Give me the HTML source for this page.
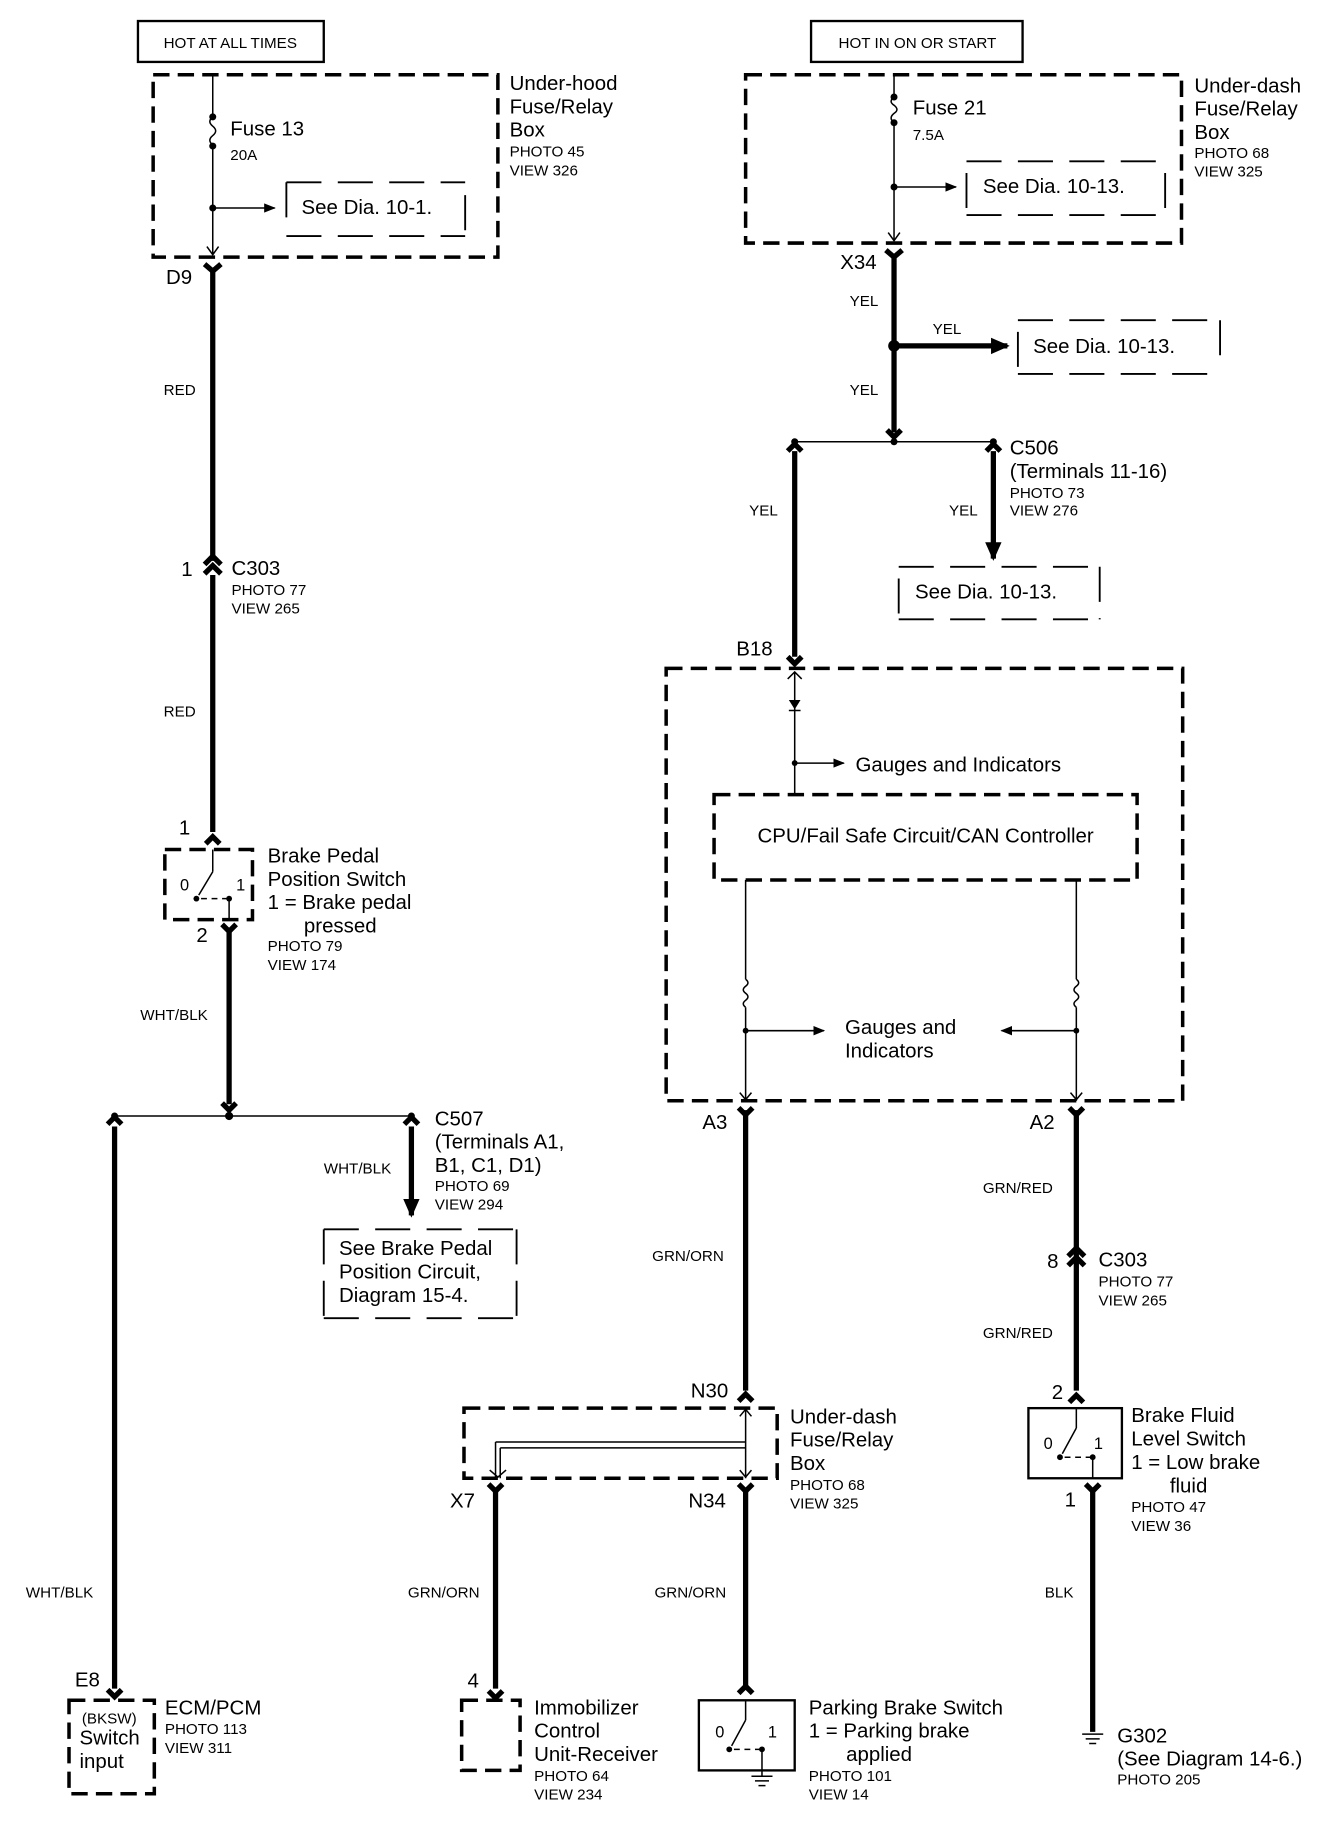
<!DOCTYPE html>
<html><head><meta charset="utf-8"><style>
html,body{margin:0;padding:0;background:#fff;}
svg{display:block;}
text{font-family:"Liberation Sans",Arial,sans-serif;fill:#000;}
.L{font-size:17.5px;}
.S{font-size:13px;}
.M{font-size:14px;}
.tk{stroke:#000;stroke-width:4.5;fill:none;}
.tn{stroke:#000;stroke-width:1.3;fill:none;}
.db{stroke:#000;stroke-width:3;fill:none;stroke-dasharray:14,7;}
.dt{stroke:#000;stroke-width:1.6;fill:none;stroke-dasharray:30,14;}
.bx{stroke:#000;stroke-width:2;fill:none;}
</style></head><body>
<svg width="1344" height="1830" viewBox="0 0 1150 1566" xmlns="http://www.w3.org/2000/svg">
<defs>
<marker id="ar" markerWidth="10" markerHeight="10" refX="9" refY="5" orient="auto" markerUnits="userSpaceOnUse"><path d="M0,1 L10,5 L0,9 z" fill="#000"/></marker>
<marker id="arb" markerWidth="16" markerHeight="16" refX="14" refY="8" orient="auto" markerUnits="userSpaceOnUse"><path d="M0,1 L16,8 L0,15 z" fill="#000"/></marker>
</defs>

<!-- ===== LEFT ===== -->
<rect x="118" y="18" width="159" height="35" class="bx"/>
<text x="197" y="41" class="S" text-anchor="middle">HOT AT ALL TIMES</text>
<rect x="131" y="64" width="295" height="156" class="db"/>
<line x1="182" y1="64" x2="182" y2="100" class="tn"/>
<circle cx="182" cy="100" r="3"/>
<path d="M182,100 q-5,4 0,8 q5,4 0,8 q-5,4 0,8" class="tn"/>
<circle cx="182" cy="125" r="3"/>
<line x1="182" y1="125" x2="182" y2="218" class="tn"/>
<path d="M177,211 L182,218 L187,211" class="tn"/>
<text x="197" y="116" class="L">Fuse 13</text>
<text x="197" y="137" class="S">20A</text>
<circle cx="182" cy="178" r="3"/>
<line x1="182" y1="178" x2="235" y2="178" class="tn" marker-end="url(#ar)"/>
<path d="M245,156 H398 M245,156 V190 M398,167 V202 M245,202 H398" class="dt"/>
<text x="258" y="183" class="L">See Dia. 10-1.</text>
<text x="436" y="77" class="L">Under-hood</text>
<text x="436" y="97" class="L">Fuse/Relay</text>
<text x="436" y="117" class="L">Box</text>
<text x="436" y="134" class="S">PHOTO 45</text>
<text x="436" y="150" class="S">VIEW 326</text>

<path d="M175,226 L182,232 L189,226" class="tk" stroke-width="3"/>
<line x1="182" y1="230" x2="182" y2="480" class="tk"/>
<text x="142" y="243" class="L">D9</text>
<text x="140" y="338" class="S">RED</text>
<path d="M175,491 L182,484 L189,491 M175,483 L182,476 L189,483" class="tk" stroke-width="2.5"/>
<line x1="182" y1="492" x2="182" y2="712" class="tk"/>
<text x="155" y="493" class="L">1</text>
<text x="198" y="492" class="L">C303</text>
<text x="198" y="509" class="S">PHOTO 77</text>
<text x="198" y="525" class="S">VIEW 265</text>
<text x="140" y="613" class="S">RED</text>
<text x="153" y="714" class="L">1</text>
<path d="M176,722 L182,716 L188,722" class="tk" stroke-width="2.5"/>
<rect x="141" y="727" width="75" height="60" class="db" stroke-width="2.5"/>
<line x1="182" y1="727" x2="182" y2="746" class="tn"/>
<line x1="182" y1="746" x2="170" y2="766" class="tn"/>
<circle cx="168" cy="769" r="2.5"/>
<path d="M172,769 H196" class="tn" stroke-dasharray="5,4"/>
<circle cx="196" cy="769" r="2.5"/>
<line x1="196" y1="769" x2="196" y2="787" class="tn"/>
<text x="154" y="762" class="M">0</text>
<text x="202" y="762" class="M">1</text>
<text x="229" y="738" class="L">Brake Pedal</text>
<text x="229" y="758" class="L">Position Switch</text>
<text x="229" y="778" class="L">1 = Brake pedal</text>
<text x="260" y="798" class="L">pressed</text>
<text x="229" y="814" class="S">PHOTO 79</text>
<text x="229" y="830" class="S">VIEW 174</text>
<text x="168" y="806" class="L">2</text>
<path d="M190,791 L196,797 L202,791" class="tk" stroke-width="2.5"/>
<line x1="196" y1="795" x2="196" y2="945" class="tk"/>
<text x="120" y="873" class="S">WHT/BLK</text>
<path d="M190,944 L196,950 L202,944" class="tk" stroke-width="2.5"/>
<line x1="98" y1="955" x2="352" y2="955" class="tn"/>
<circle cx="196" cy="955" r="3.5"/>
<circle cx="98" cy="955" r="3"/>
<path d="M92,962 L98,956 L104,962" class="tk" stroke-width="2.5"/>
<line x1="98" y1="964" x2="98" y2="1445" class="tk"/>
<text x="22" y="1367" class="S">WHT/BLK</text>
<text x="64" y="1443" class="L">E8</text>
<path d="M92,1446 L98,1452 L104,1446" class="tk" stroke-width="2.5"/>
<rect x="59" y="1455" width="73" height="80" class="db" stroke-width="2.5"/>
<text x="70" y="1475" class="S">(BKSW)</text>
<text x="68" y="1493" class="L">Switch</text>
<text x="68" y="1513" class="L">input</text>
<text x="141" y="1467" class="L">ECM/PCM</text>
<text x="141" y="1484" class="S">PHOTO 113</text>
<text x="141" y="1500" class="S">VIEW 311</text>

<circle cx="352" cy="955" r="3"/>
<path d="M346,962 L352,956 L358,962" class="tk" stroke-width="2.5"/>
<line x1="352" y1="964" x2="352" y2="1040" class="tk" marker-end="url(#arb)"/>
<text x="277" y="1004" class="S">WHT/BLK</text>
<text x="372" y="963" class="L">C507</text>
<text x="372" y="983" class="L">(Terminals A1,</text>
<text x="372" y="1003" class="L">B1, C1, D1)</text>
<text x="372" y="1019" class="S">PHOTO 69</text>
<text x="372" y="1035" class="S">VIEW 294</text>
<path d="M277,1052 H442 M277,1052 V1128 M442,1052 V1128 M277,1128 H442" class="dt"/>
<text x="290" y="1074" class="L">See Brake Pedal</text>
<text x="290" y="1094" class="L">Position  Circuit,</text>
<text x="290" y="1114" class="L">Diagram 15-4.</text>

<!-- ===== RIGHT TOP ===== -->
<rect x="694" y="18" width="181" height="35" class="bx"/>
<text x="785" y="41" class="S" text-anchor="middle">HOT IN ON OR START</text>
<rect x="638" y="64" width="373" height="144" class="db"/>
<line x1="765" y1="64" x2="765" y2="83" class="tn"/>
<circle cx="765" cy="83" r="3"/>
<path d="M765,83 q-5,4 0,7 q5,4 0,7 q-5,4 0,8" class="tn"/>
<circle cx="765" cy="105" r="3"/>
<line x1="765" y1="105" x2="765" y2="206" class="tn"/>
<path d="M760,199 L765,206 L770,199" class="tn"/>
<text x="781" y="98" class="L">Fuse 21</text>
<text x="781" y="120" class="S">7.5A</text>
<circle cx="765" cy="160" r="3"/>
<line x1="765" y1="160" x2="818" y2="160" class="tn" marker-end="url(#ar)"/>
<path d="M827,138 H997 M827,148 V184 M997,148 V184 M827,184 H997" class="dt"/>
<text x="841" y="165" class="L">See Dia. 10-13.</text>
<text x="1022" y="79" class="L">Under-dash</text>
<text x="1022" y="99" class="L">Fuse/Relay</text>
<text x="1022" y="119" class="L">Box</text>
<text x="1022" y="135" class="S">PHOTO 68</text>
<text x="1022" y="151" class="S">VIEW 325</text>

<text x="719" y="230" class="L">X34</text>
<path d="M758,214 L765,220 L772,214" class="tk" stroke-width="3"/>
<line x1="765" y1="218" x2="765" y2="370" class="tk"/>
<text x="727" y="262" class="S">YEL</text>
<circle cx="765" cy="296" r="5"/>
<line x1="765" y1="296" x2="862" y2="296" class="tk" marker-end="url(#arb)"/>
<text x="798" y="286" class="S">YEL</text>
<path d="M871,274 H1044 M871,284 V320 M1044,274 V310 M871,320 H1044" class="dt"/>
<text x="884" y="302" class="L">See Dia. 10-13.</text>
<text x="727" y="338" class="S">YEL</text>
<path d="M759,368 L765,374 L771,368" class="tk" stroke-width="2.5"/>
<line x1="680" y1="378" x2="850" y2="378" class="tn"/>
<circle cx="765" cy="378" r="3"/><circle cx="680" cy="378" r="3"/><circle cx="850" cy="378" r="3"/>
<path d="M674,386 L680,380 L686,386" class="tk" stroke-width="2.5"/>
<line x1="680" y1="386" x2="680" y2="562" class="tk"/>
<text x="641" y="441" class="S">YEL</text>
<path d="M844,386 L850,380 L856,386" class="tk" stroke-width="2.5"/>
<line x1="850" y1="386" x2="850" y2="478" class="tk" marker-end="url(#arb)"/>
<text x="812" y="441" class="S">YEL</text>
<text x="864" y="389" class="L">C506</text>
<text x="864" y="409" class="L">(Terminals 11-16)</text>
<text x="864" y="426" class="S">PHOTO 73</text>
<text x="864" y="441" class="S">VIEW 276</text>
<path d="M769,485 H941 M769,495 V530 M941,485 V530 M769,530 H941" class="dt"/>
<text x="783" y="512" class="L">See Dia. 10-13.</text>

<!-- Gauge module -->
<text x="630" y="561" class="L">B18</text>
<path d="M674,562 L680,568 L686,562" class="tk" stroke-width="2.5"/>
<rect x="570" y="572" width="442" height="370" class="db"/>
<path d="M674,581 L680,575 L686,581" class="tn"/>
<line x1="680" y1="575" x2="680" y2="680" class="tn"/>
<path d="M675,599 L685,599 L680,607 z" fill="#000"/>
<line x1="675" y1="608" x2="685" y2="608" class="tn"/>
<circle cx="680" cy="653" r="2.5"/>
<line x1="680" y1="653" x2="722" y2="653" class="tn" marker-end="url(#ar)"/>
<text x="732" y="660" class="L">Gauges and Indicators</text>
<rect x="611" y="680" width="362" height="73" class="db" stroke-width="2.5"/>
<text x="792" y="721" class="L" text-anchor="middle">CPU/Fail Safe Circuit/CAN Controller</text>
<line x1="638" y1="753" x2="638" y2="838" class="tn"/>
<path d="M638,838 q4,3 0,6 q-4,3 0,6 q4,3 0,6 q-4,3 0,6" class="tn"/>
<line x1="638" y1="862" x2="638" y2="942" class="tn"/>
<line x1="921" y1="753" x2="921" y2="838" class="tn"/>
<path d="M921,838 q4,3 0,6 q-4,3 0,6 q4,3 0,6 q-4,3 0,6" class="tn"/>
<line x1="921" y1="862" x2="921" y2="942" class="tn"/>
<circle cx="638" cy="882" r="2.5"/><circle cx="921" cy="882" r="2.5"/>
<line x1="638" y1="882" x2="705" y2="882" class="tn" marker-end="url(#ar)"/>
<line x1="921" y1="882" x2="857" y2="882" class="tn" marker-end="url(#ar)"/>
<text x="723" y="885" class="L">Gauges and</text>
<text x="723" y="905" class="L">Indicators</text>
<path d="M633,935 L638,941 L643,935" class="tn"/>
<path d="M916,935 L921,941 L926,935" class="tn"/>

<text x="601" y="966" class="L">A3</text>
<path d="M632,948 L638,954 L644,948" class="tk" stroke-width="2.5"/>
<line x1="638" y1="950" x2="638" y2="1190" class="tk"/>
<text x="558" y="1079" class="S">GRN/ORN</text>
<text x="881" y="966" class="L">A2</text>
<path d="M915,948 L921,954 L927,948" class="tk" stroke-width="2.5"/>
<line x1="921" y1="950" x2="921" y2="1190" class="tk"/>
<text x="841" y="1021" class="S">GRN/RED</text>
<path d="M914,1083 L921,1076 L928,1083 M914,1075 L921,1068 L928,1075" class="tk" stroke-width="2.5"/>
<text x="896" y="1085" class="L">8</text>
<text x="940" y="1084" class="L">C303</text>
<text x="940" y="1101" class="S">PHOTO 77</text>
<text x="940" y="1117" class="S">VIEW 265</text>
<text x="841" y="1145" class="S">GRN/RED</text>
<text x="900" y="1197" class="L">2</text>
<path d="M915,1200 L921,1194 L927,1200" class="tk" stroke-width="2.5"/>
<rect x="880" y="1205" width="80" height="60" class="bx" stroke-width="1.6"/>
<line x1="921" y1="1205" x2="921" y2="1222" class="tn"/>
<line x1="921" y1="1222" x2="909" y2="1244" class="tn"/>
<circle cx="907" cy="1247" r="2.5"/>
<path d="M911,1247 H935" class="tn" stroke-dasharray="5,4"/>
<circle cx="935" cy="1247" r="2.5"/>
<line x1="935" y1="1247" x2="935" y2="1265" class="tn"/>
<text x="893" y="1240" class="M">0</text>
<text x="936" y="1240" class="M">1</text>
<text x="968" y="1217" class="L">Brake Fluid</text>
<text x="968" y="1237" class="L">Level Switch</text>
<text x="968" y="1257" class="L">1 = Low brake</text>
<text x="1001" y="1277" class="L">fluid</text>
<text x="968" y="1294" class="S">PHOTO 47</text>
<text x="968" y="1310" class="S">VIEW 36</text>
<text x="911" y="1289" class="L">1</text>
<path d="M929,1270 L935,1276 L941,1270" class="tk" stroke-width="2.5"/>
<line x1="935" y1="1274" x2="935" y2="1482" class="tk"/>
<text x="894" y="1367" class="S">BLK</text>
<path d="M926,1484 H944 M929,1488 H941 M932,1492 H938" class="tn" stroke-width="2"/>
<text x="956" y="1491" class="L">G302</text>
<text x="956" y="1511" class="L">(See Diagram 14-6.)</text>
<text x="956" y="1527" class="S">PHOTO 205</text>

<!-- Under-dash lower -->
<text x="591" y="1196" class="L">N30</text>
<path d="M632,1199 L638,1193 L644,1199" class="tk" stroke-width="2.5"/>
<rect x="397" y="1205" width="268" height="60" class="db"/>
<line x1="638" y1="1205" x2="638" y2="1265" class="tn"/>
<path d="M633,1212 L638,1206 L643,1212" class="tn"/>
<line x1="424" y1="1234" x2="638" y2="1234" class="tn"/>
<line x1="428" y1="1239" x2="638" y2="1239" class="tn"/>
<line x1="424" y1="1234" x2="424" y2="1265" class="tn"/>
<line x1="428" y1="1239" x2="428" y2="1265" class="tn"/>
<path d="M419,1258 L426,1264 L433,1258" class="tn"/>
<path d="M633,1258 L638,1264 L643,1258" class="tn"/>
<text x="676" y="1218" class="L">Under-dash</text>
<text x="676" y="1238" class="L">Fuse/Relay</text>
<text x="676" y="1258" class="L">Box</text>
<text x="676" y="1275" class="S">PHOTO 68</text>
<text x="676" y="1291" class="S">VIEW 325</text>
<text x="385" y="1290" class="L">X7</text>
<text x="589" y="1290" class="L">N34</text>
<path d="M418,1270 L424,1276 L430,1270" class="tk" stroke-width="2.5"/>
<line x1="424" y1="1274" x2="424" y2="1445" class="tk"/>
<path d="M632,1270 L638,1276 L644,1270" class="tk" stroke-width="2.5"/>
<line x1="638" y1="1274" x2="638" y2="1445" class="tk"/>
<text x="349" y="1367" class="S">GRN/ORN</text>
<text x="560" y="1367" class="S">GRN/ORN</text>
<text x="400" y="1444" class="L">4</text>
<path d="M418,1447 L424,1453 L430,1447" class="tk" stroke-width="2.5"/>
<rect x="395" y="1455" width="50" height="60" class="db" stroke-width="2.5"/>
<text x="457" y="1467" class="L">Immobilizer</text>
<text x="457" y="1487" class="L">Control</text>
<text x="457" y="1507" class="L">Unit-Receiver</text>
<text x="457" y="1524" class="S">PHOTO 64</text>
<text x="457" y="1540" class="S">VIEW 234</text>
<path d="M632,1449 L638,1443 L644,1449" class="tk" stroke-width="2.5"/>
<rect x="598" y="1455" width="82" height="60" class="bx" stroke-width="1.6"/>
<line x1="638" y1="1455" x2="638" y2="1472" class="tn"/>
<line x1="638" y1="1472" x2="626" y2="1494" class="tn"/>
<circle cx="624" cy="1497" r="2.5"/>
<path d="M628,1497 H652" class="tn" stroke-dasharray="5,4"/>
<circle cx="652" cy="1497" r="2.5"/>
<line x1="652" y1="1497" x2="652" y2="1520" class="tn" stroke-width="3"/>
<path d="M643,1520 H661 M646,1524 H658 M649,1528 H655" class="tn" stroke-width="1.6"/>
<text x="612" y="1487" class="M">0</text>
<text x="657" y="1487" class="M">1</text>
<text x="692" y="1467" class="L">Parking Brake Switch</text>
<text x="692" y="1487" class="L">1 = Parking brake</text>
<text x="724" y="1507" class="L">applied</text>
<text x="692" y="1524" class="S">PHOTO 101</text>
<text x="692" y="1540" class="S">VIEW 14</text>
</svg>
</body></html>
